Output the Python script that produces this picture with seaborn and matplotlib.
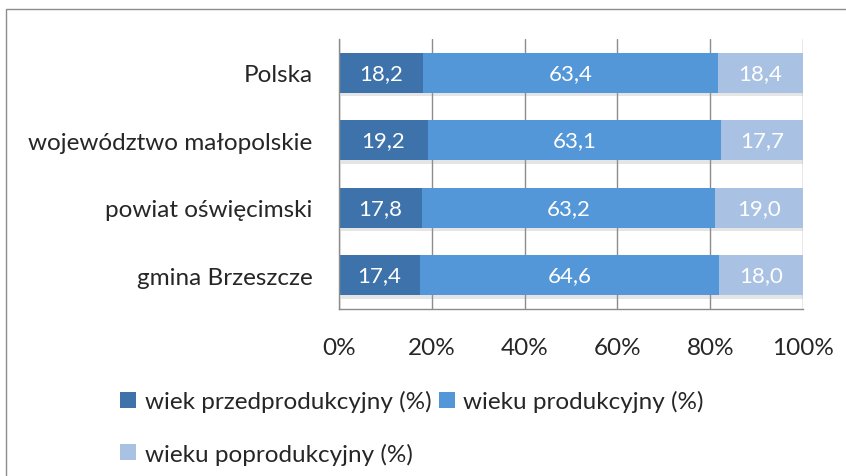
import matplotlib.pyplot as plt
import matplotlib.patheffects as pe
from matplotlib.patches import Rectangle, Patch
import numpy as np
import pandas as pd
import seaborn as sns

sns.set_style("white")
plt.rcParams['font.family'] = ['Lato', 'DejaVu Sans']

# data
regions = ['Polska', 'województwo małopolskie', 'powiat oświęcimski', 'gmina Brzeszcze']
pre_prod = [18.2, 19.2, 17.8, 17.4]
prod = [63.4, 63.1, 63.2, 64.6]
post_prod = [18.4, 17.7, 19.0, 18.0]
series_names = ['wiek przedprodukcyjny (%)', 'wieku produkcyjny (%)', 'wieku poprodukcyjny (%)']
colors = ['#3e72ab', '#5497d8', '#a9c2e4']

df = pd.DataFrame({'region': regions, 'pre': pre_prod, 'prod': prod, 'post': post_prod})
totals = df[['pre', 'prod', 'post']].sum(axis=1)
df['pre_pct'] = df['pre'] / totals * 100
df['prod_pct'] = df['prod'] / totals * 100
df['post_pct'] = df['post'] / totals * 100
df['c1'] = df['pre_pct']
df['c2'] = df['pre_pct'] + df['prod_pct']
df['c3'] = df['c2'] + df['post_pct']

fig = plt.figure(figsize=(8.46, 4.77), dpi=100)
ax = fig.add_axes([0.4007, 0.3501, 0.5485, 0.566])

shadow = [pe.SimplePatchShadow(offset=(1.5, -2.5), shadow_rgbFace='#999999', alpha=0.25), pe.Normal()]

# stacked bars drawn as overlapping cumulative bars
for col, c in zip(['c3', 'c2', 'c1'], colors[::-1]):
    sns.barplot(data=df, x=col, y='region', orient='h', color=c, width=0.59,
                saturation=1, ax=ax, edgecolor='none')

for p in ax.patches[:4]:
    p.set_path_effects(shadow)

# value labels
for i, row in df.iterrows():
    starts = [0, row['c1'], row['c2']]
    widths = [row['pre_pct'], row['prod_pct'], row['post_pct']]
    vals = [row['pre'], row['prod'], row['post']]
    for s, w, v in zip(starts, widths, vals):
        ax.text(s + w / 2, i, f"{v:.1f}".replace('.', ','), ha='center', va='center',
                color='white', fontsize=16)

ax.set_xlim(0, 100)
ax.set_ylim(3.5, -0.5)
ax.set_xticks([0, 20, 40, 60, 80, 100])
ax.set_xticklabels([f"{t}%" for t in [0, 20, 40, 60, 80, 100]])
ax.set_xlabel('')
ax.set_ylabel('')
ax.tick_params(axis='x', length=0, pad=20, labelsize=17.5)
ax.tick_params(axis='y', length=0, pad=19, labelsize=17.5)
ax.xaxis.grid(True, color='#8c8c8c', linewidth=1)
ax.set_axisbelow(True)
for s in ['left', 'bottom']:
    ax.spines[s].set_color('#8c8c8c')
    ax.spines[s].set_linewidth(1)
ax.spines['top'].set_visible(False)
ax.spines['right'].set_visible(False)

# legend filled column-wise: pre, post in col 1, prod in col 2
handles = [Patch(facecolor=c, edgecolor='none') for c in colors]
order = [0, 2, 1]
fig.legend([handles[k] for k in order], [series_names[k] for k in order],
           loc='upper left', bbox_to_anchor=(0.142, 0.18),
           ncol=2, frameon=False, fontsize=17.5, handlelength=0.66, handleheight=0.66,
           handletextpad=0.35, columnspacing=0.3, labelspacing=1.25, borderpad=0,
           borderaxespad=0, bbox_transform=fig.transFigure)

# outer frame
fig.patches.append(Rectangle((0.007, -0.05), 1.2, 1.029, transform=fig.transFigure,
                             fill=False, edgecolor='#8c8c8c', linewidth=1))

fig.savefig('out.png', dpi=100)
